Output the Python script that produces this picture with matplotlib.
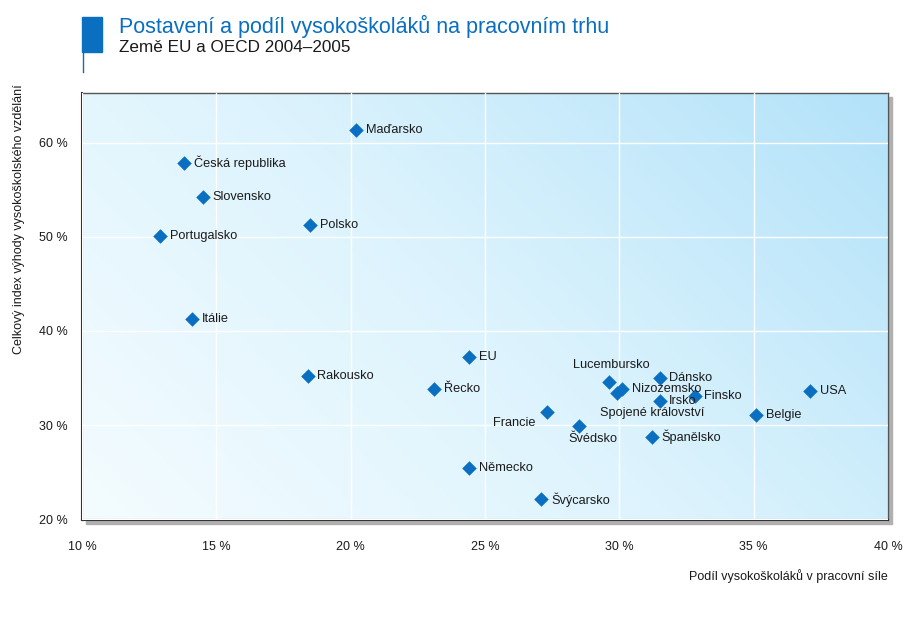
# plot.py
# Postavení a podíl vysokoškoláků na pracovním trhu - scatter with labels

import numpy as np
import matplotlib
matplotlib.use('Agg')
import matplotlib.pyplot as plt
from matplotlib.colors import LinearSegmentedColormap
from matplotlib.patches import Rectangle
from matplotlib.lines import Line2D

plt.rcParams['font.family'] = ['Liberation Sans', 'DejaVu Sans']

# Data
countries = ['Maďarsko', 'Česká republika', 'Slovensko', 'Polsko', 'Portugalsko',
             'Itálie', 'EU', 'Rakousko', 'Řecko', 'Francie', 'Švédsko', 'Německo',
             'Švýcarsko', 'Lucembursko', 'Nizozemsko', 'Spojené království',
             'Dánsko', 'Irsko', 'Finsko', 'Belgie', 'USA', 'Španělsko']
share = [20.2, 13.8, 14.5, 18.5, 12.9,
         14.1, 24.4, 18.4, 23.1, 27.3, 28.5, 24.4,
         27.1, 29.6, 30.1, 29.9,
         31.5, 31.5, 32.8, 35.1, 37.1, 31.2]
index = [61.4, 57.9, 54.2, 51.3, 50.1,
         41.3, 37.2, 35.2, 33.8, 31.4, 29.9, 25.4,
         22.1, 34.6, 33.8, 33.4,
         35.0, 32.5, 33.1, 31.1, 33.6, 28.7]

x_ticks = [10, 15, 20, 25, 30, 35, 40]
y_ticks = [20, 30, 40, 50, 60]

# label placement: (dx, dy) in points, ha, va
label_pos = {
    'Lucembursko': (2, 8, 'center', 'bottom'),
    'Spojené království': (-12, -10, 'left', 'top'),
    'Francie': (-8, -4, 'right', 'top'),
    'Švédsko': (-8, -5, 'left', 'top'),
}

BLUE = '#0a6fc0'
TXT = '#1a1a1a'

fig = plt.figure(figsize=(9.24, 6.18), dpi=100)
ax = fig.add_axes([82 / 924, 1 - 520 / 618, 806 / 924, 427 / 618])

# diagonal gradient background
cmap = LinearSegmentedColormap.from_list('bg', ['#f4fcff', '#dcf3fd', '#b3e2f9'])
gx, gy = np.meshgrid(np.linspace(0, 1, 200), np.linspace(0, 1, 200))
ax.imshow((gx * 0.65 + gy * 0.35), extent=[0, 1, 0, 1], transform=ax.transAxes,
          origin='lower', aspect='auto', cmap=cmap, zorder=0)

ax.set_xlim(10, 40)
ax.set_ylim(19.9, 65.3)
ax.set_xticks(x_ticks)
ax.set_yticks(y_ticks)
ax.set_xticklabels([f'{t} %' for t in x_ticks], fontsize=9, color=TXT)
ax.set_yticklabels([f'{t} %' for t in y_ticks], fontsize=9, color=TXT)
ax.tick_params(length=0)
ax.tick_params(axis='y', pad=10)
ax.tick_params(axis='x', pad=15)
ax.grid(True, color='white', linewidth=1.0, zorder=1)
ax.set_axisbelow(False)

for side in ['left', 'bottom']:
    ax.spines[side].set_color('#333333')
    ax.spines[side].set_linewidth(1.5)
for side in ['top', 'right']:
    ax.spines[side].set_color('#555555')
    ax.spines[side].set_linewidth(1.0)

ax.scatter(share, index, marker='D', s=55, color=BLUE, zorder=3, linewidths=0)

for name, x, y in zip(countries, share, index):
    dx, dy, ha, va = label_pos.get(name, (7, 0, 'left', 'center'))
    ax.annotate(name, (x, y), xytext=(dx, dy), textcoords='offset points',
                ha=ha, va=va, fontsize=9.2, color=TXT, zorder=4)

# shadow behind axes
fig.add_artist(Rectangle((86 / 924, 1 - 524 / 618), 806 / 924, 427 / 618,
                         transform=fig.transFigure, color='#b0b0b0', zorder=-1))

ax.set_ylabel('Celkový index výhody vysokoškolského vzdělání', fontsize=9, color=TXT)
ax.yaxis.set_label_coords(-0.071, 0.705)
fig.text(888 / 924, 1 - 576 / 618, 'Podíl vysokoškoláků v pracovní síle',
         ha='right', va='center', fontsize=9, color=TXT)

# title block
fig.add_artist(Rectangle((82 / 924, 1 - 52 / 618), 20 / 924, 35 / 618,
                         transform=fig.transFigure, color=BLUE))
fig.add_artist(Line2D([82.5 / 924, 82.5 / 924], [1 - 72 / 618, 1 - 52 / 618],
                      transform=fig.transFigure, color=BLUE, linewidth=1))
fig.text(119 / 924, 1 - 26 / 618, 'Postavení a podíl vysokoškoláků na pracovním trhu',
         ha='left', va='center', fontsize=15.5, color=BLUE)
fig.text(119 / 924, 1 - 48 / 618, 'Země EU a OECD 2004–2005',
         ha='left', va='center', fontsize=12.3, color=TXT)

fig.savefig('out.png', dpi=100)
